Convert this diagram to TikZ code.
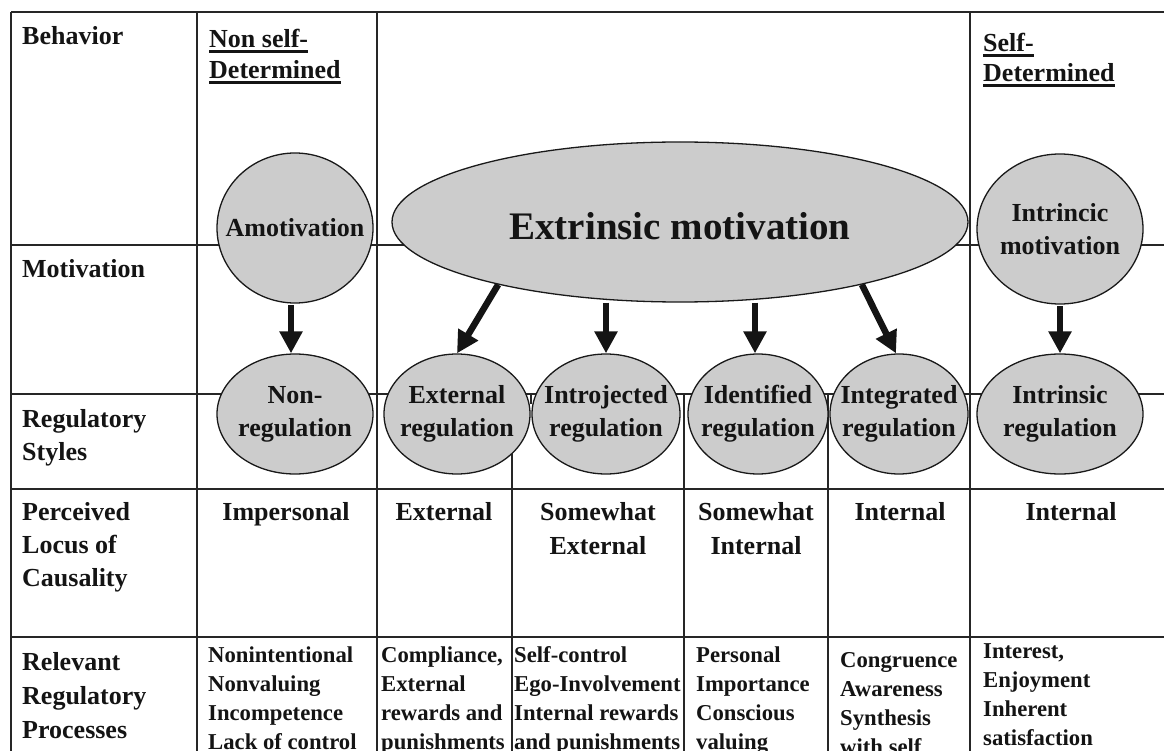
\documentclass[tikz,border=0pt]{standalone}
\usepackage{fontspec}
\setmainfont{Liberation Serif}
\usetikzlibrary{shapes.geometric,arrows.meta}
\newsavebox\myulbox
\newcommand\myul[1]{\sbox\myulbox{#1}\rlap{\rule[-5pt]{\wd\myulbox}{2.6pt}}\usebox\myulbox}
\begin{document}
\begin{tikzpicture}[x=1pt,y=-1pt,
  grid/.style={line width=1.6pt, draw=black!85},
  bub/.style={ellipse, draw=black!90, line width=1.3pt, fill=black!20, inner sep=0pt},
  lbl/.style={font=\fontsize{26}{33}\selectfont\bfseries, inner sep=0pt, text=black!92},
  small/.style={font=\fontsize{22.7}{29.3}\selectfont\bfseries, inner sep=0pt, text=black!92},
  big/.style={font=\fontsize{39}{44}\selectfont\bfseries, inner sep=0pt, text=black!92},
  arr/.style={line width=6.5pt, draw=black!92, -{Triangle[width=22pt,length=22pt]}}]
\useasboundingbox (0,0) rectangle (1164,751);
\clip (0,0) rectangle (1164,751);
% table grid
\draw[grid] (11,12) -- (1170,12);
\draw[grid] (11,245) -- (1170,245);
\draw[grid] (11,394) -- (1170,394);
\draw[grid] (11,489) -- (1170,489);
\draw[grid] (11,637) -- (1170,637);
\draw[grid] (11,12) -- (11,760);
\draw[grid] (197,12) -- (197,760);
\draw[grid] (377,12) -- (377,760);
\draw[grid] (970,12) -- (970,760);
\draw[grid] (512,394) -- (512,760);
\draw[grid] (531,394) -- (531,404);
\draw[grid] (684,394) -- (684,760);
\draw[grid] (828,394) -- (828,760);
% bubbles
\node[bub, minimum width=156pt, minimum height=150pt,
  label={[lbl]center:Amotivation}] (amot) at (295,228) {};
\node[bub, minimum width=576pt, minimum height=160pt,
  label={[big,yshift=-4pt]center:Extrinsic motivation}] (extr) at (680,222) {};
\node[bub, minimum width=166pt, minimum height=150pt,
  label={[lbl,align=center]center:{Intrincic\\motivation}}] (intrm) at (1060,229) {};
\node[bub, minimum width=156pt, minimum height=120pt,
  label={[lbl,align=center]center:{Non-\\regulation}}] (nonreg) at (295,414) {};
\node[bub, minimum width=146pt, minimum height=120pt,
  label={[lbl,align=center]center:{External\\regulation}}] (extreg) at (457,414) {};
\node[bub, minimum width=148pt, minimum height=120pt,
  label={[lbl,align=center]center:{Introjected\\regulation}}] (introreg) at (606,414) {};
\node[bub, minimum width=140pt, minimum height=120pt,
  label={[lbl,align=center]center:{Identified\\regulation}}] (identreg) at (758,414) {};
\node[bub, minimum width=138pt, minimum height=120pt,
  label={[lbl,align=center]center:{Integrated\\regulation}}] (integreg) at (899,414) {};
\node[bub, minimum width=166pt, minimum height=120pt,
  label={[lbl,align=center]center:{Intrinsic\\regulation}}] (intrreg) at (1060,414) {};
% arrows
\draw[arr, shorten <=1.5pt] ([xshift=-4pt]amot.south) -- ([xshift=-4pt]nonreg.north);
\draw[arr] (extr.199) -- (extreg.north);
\draw[arr] (extr.south -| introreg.north) -- (introreg.north);
\draw[arr] ([xshift=-3pt]extr.south -| identreg.north) -- ([xshift=-3pt]identreg.north);
\draw[arr] (extr.341) -- ([xshift=-3pt]integreg.north);
\draw[arr, shorten <=1.5pt] (intrm.south) -- (intrreg.north);
% row labels
\node[lbl, anchor=base west] (rBeh) at (22,45) {Behavior};
\node[lbl, anchor=base west] (rMot) at (22,277) {Motivation};
\node[lbl, anchor=base west] (rReg) at (22,427) {\begin{tabular}[t]{@{}l@{}}Regulatory\\Styles\end{tabular}};
\node[lbl, anchor=base west] (rPer) at (22,520) {\begin{tabular}[t]{@{}l@{}}Perceived\\Locus of\\Causality\end{tabular}};
\node[lbl, anchor=base west] (rRel) at (22,670) {\begin{tabular}[t]{@{}l@{}}Relevant\\[1pt]Regulatory\\[1pt]Processes\end{tabular}};
% headers
\node[lbl, anchor=base west] (hNon) at (209,48) {\begin{tabular}[t]{@{}l@{}}\myul{Non self-}\\[-2pt]\myul{Determined}\end{tabular}};
\node[lbl, anchor=base west] (hSelf) at (983,52) {\begin{tabular}[t]{@{}l@{}}\myul{Self-}\\[-3pt]\myul{Determined}\end{tabular}};
% locus of causality
\node[lbl, anchor=base] (c1) at (286,520) {Impersonal};
\node[lbl, anchor=base] (c2) at (444,520) {External};
\node[lbl, anchor=base] (c3) at (598,520) {\begin{tabular}[t]{@{}c@{}}Somewhat\\[1pt]External\end{tabular}};
\node[lbl, anchor=base] (c4) at (756,520) {\begin{tabular}[t]{@{}c@{}}Somewhat\\[1pt]Internal\end{tabular}};
\node[lbl, anchor=base] (c5) at (900,520) {Internal};
\node[lbl, anchor=base] (c6) at (1071,520) {Internal};
% processes
\node[small, anchor=base west] (p1) at (208,662) {\begin{tabular}[t]{@{}l@{}}Nonintentional\\Nonvaluing\\Incompetence\\Lack of control\end{tabular}};
\node[small, anchor=base west] (p2) at (381,662) {\begin{tabular}[t]{@{}l@{}}Compliance,\\External\\rewards and\\punishments\end{tabular}};
\node[small, anchor=base west] (p3) at (514,662) {\begin{tabular}[t]{@{}l@{}}Self-control\\Ego-Involvement\\Internal rewards\\and punishments\end{tabular}};
\node[small, anchor=base west] (p4) at (696,662) {\begin{tabular}[t]{@{}l@{}}Personal\\Importance\\Conscious\\valuing\end{tabular}};
\node[small, anchor=base west] (p5) at (840,667) {\begin{tabular}[t]{@{}l@{}}Congruence\\Awareness\\Synthesis\\with self\end{tabular}};
\node[small, anchor=base west] (p6) at (983,658) {\begin{tabular}[t]{@{}l@{}}Interest,\\Enjoyment\\Inherent\\satisfaction\end{tabular}};
\end{tikzpicture}
\end{document}
